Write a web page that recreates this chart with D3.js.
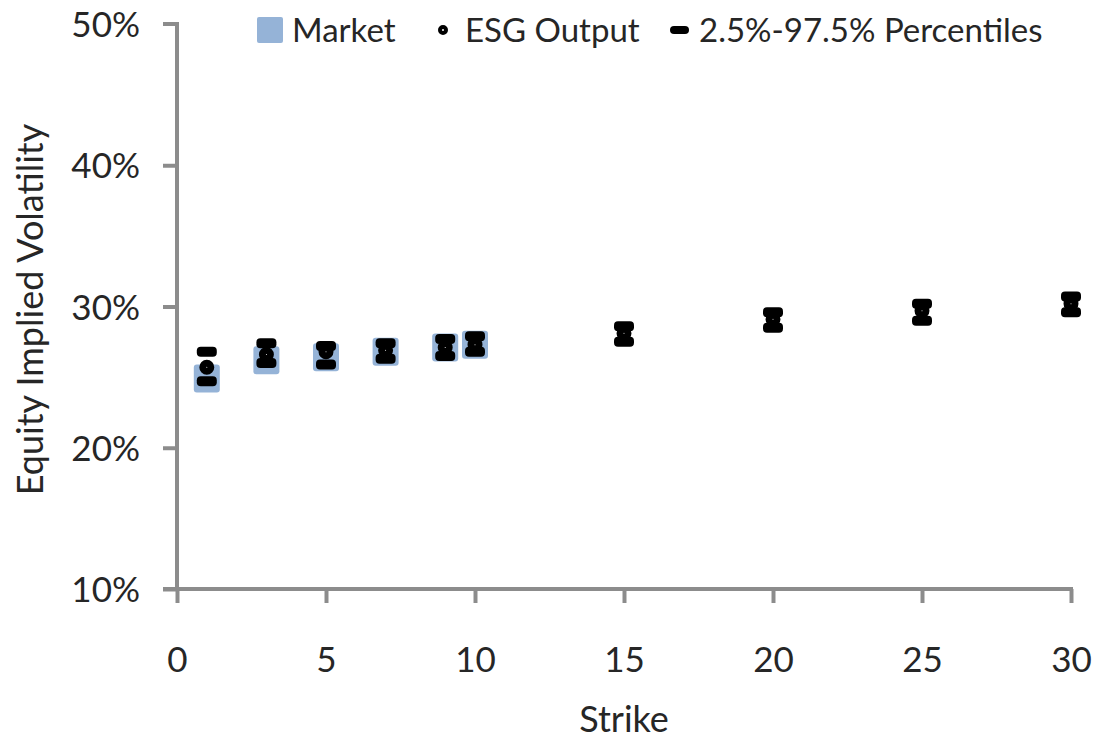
<!DOCTYPE html>
<html>
<head>
<meta charset="utf-8">
<script src="https://cdn.jsdelivr.net/npm/d3@7.9.0/dist/d3.min.js"></script>
<style>
  body { margin: 0; background: #fff; }
  text { font-family: Lato, "Open Sans", sans-serif; fill: #262626; }
</style>
</head>
<body>
<svg id="chart" width="1096" height="744"></svg>
<script>
// strikes and values (vol in %)
const strikes = [1, 3, 5, 7, 9, 10, 15, 20, 25, 30];
const esgOutput = [25.7, 26.6, 26.8, 26.9, 27.1, 27.3, 28.1, 29.1, 29.7, 30.2];
const pctLow = [24.7, 26.0, 25.9, 26.3, 26.5, 26.8, 27.5, 28.5, 29.0, 29.6];
const pctHigh = [26.8, 27.4, 27.2, 27.4, 27.7, 27.9, 28.6, 29.6, 30.2, 30.7];
const marketStrikes = [1, 3, 5, 7, 9, 10];
const marketVol = [24.9, 26.2, 26.4, 26.8, 27.1, 27.3];
const xTicks = [0, 5, 10, 15, 20, 25, 30];
const yTicks = [10, 20, 30, 40, 50];

const svg = d3.select('#chart');
const axisColor = '#8c8c8c';

const x = d3.scaleLinear().domain([0, 30]).range([177, 1071]);
const y = d3.scaleLinear().domain([10, 50]).range([589, 24]);

// axes
const yAxis = svg.append('g').attr('transform', `translate(${x(0)},0)`)
  .call(d3.axisLeft(y).tickValues(yTicks).tickSize(14).tickPadding(23).tickFormat(d => d + '%'));
const xAxis = svg.append('g').attr('transform', `translate(0,${y(10)})`)
  .call(d3.axisBottom(x).tickValues(xTicks).tickSize(14).tickPadding(44));

[yAxis, xAxis].forEach(g => {
  g.select('.domain').attr('stroke', axisColor).attr('stroke-width', 4);
  g.selectAll('.tick line').attr('stroke', axisColor).attr('stroke-width', 4);
  g.selectAll('.tick text')
    .style('font-family', 'Lato, "Open Sans", sans-serif')
    .style('font-size', '35px').attr('fill', '#262626');
});
yAxis.select('.domain').attr('d', `M0,${y(10) + 2}V${y(50)}H-14`);
xAxis.select('.domain').attr('d', `M${x(0) - 14},0H${x(30) + 2}`);
yAxis.selectAll('.tick').filter(d => d === 50).select('line').remove();
yAxis.selectAll('.tick text').attr('dy', '0.36em');

// axis titles
svg.append('text')
  .attr('x', x(15)).attr('y', 732)
  .attr('text-anchor', 'middle').style('font-size', '36px')
  .text('Strike');
svg.append('text')
  .attr('transform', `translate(43,${y(30) + 3}) rotate(-90)`)
  .attr('text-anchor', 'middle').style('font-size', '36px')
  .text('Equity Implied Volatility');

const marketColor = '#95b3d7';

// market squares
svg.append('g').selectAll('rect')
  .data(marketStrikes.map((k, i) => ({ k, v: marketVol[i] })))
  .join('rect')
  .attr('x', d => x(d.k) - 13).attr('y', d => y(d.v) - 14)
  .attr('width', 26).attr('height', 28).attr('rx', 3)
  .attr('fill', marketColor);

const points = strikes.map((k, i) => ({ k, v: esgOutput[i], lo: pctLow[i], hi: pctHigh[i] }));

// ESG output circles
svg.append('g').selectAll('circle')
  .data(points)
  .join('circle')
  .attr('cx', d => x(d.k)).attr('cy', d => y(d.v))
  .attr('r', 4).attr('fill', '#fff')
  .attr('stroke', '#000').attr('stroke-width', 7);

// percentile dashes
const dashes = points.flatMap(d => [{ k: d.k, v: d.lo }, { k: d.k, v: d.hi }]);
svg.append('g').selectAll('rect')
  .data(dashes)
  .join('rect')
  .attr('x', d => x(d.k) - 10).attr('y', d => y(d.v) - 5)
  .attr('width', 20).attr('height', 10).attr('rx', 4)
  .attr('fill', '#000');

// legend
const leg = svg.append('g').style('font-size', '33px');
leg.append('rect').attr('x', 257).attr('y', 17).attr('width', 26).attr('height', 26)
  .attr('rx', 2).attr('fill', marketColor);
leg.append('text').attr('x', 292).attr('y', 42).text('Market');
leg.append('circle').attr('cx', 443).attr('cy', 30).attr('r', 3)
  .attr('fill', '#fff').attr('stroke', '#000').attr('stroke-width', 4);
leg.append('text').attr('x', 465).attr('y', 42).text('ESG Output');
leg.append('rect').attr('x', 670).attr('y', 26).attr('width', 19).attr('height', 8)
  .attr('rx', 4).attr('fill', '#000');
leg.append('text').attr('x', 699).attr('y', 42).text('2.5%-97.5% Percentiles');
</script>
</body>
</html>
